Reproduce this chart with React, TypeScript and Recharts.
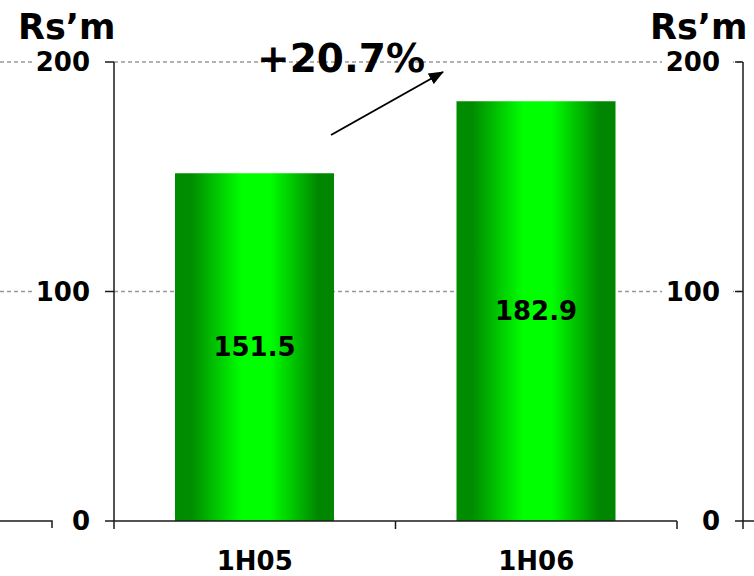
import React from 'react';
import { ComposedChart, Bar, XAxis, YAxis, CartesianGrid, LabelList, Customized } from 'recharts';

const periods = ['1H05', '1H06'];
const sales = [151.5, 182.9];
const yTicks = [0, 100, 200];
const unit = 'Rs\u2019m';

const data = periods.map((period, i) => ({ period, value: sales[i] }));
const growth = `+${((sales[1] / sales[0] - 1) * 100).toFixed(1)}%`;

const WIDTH = 754;
const HEIGHT = 576;
const RIGHT_GAP = 11; // room for the next panel's axis stub
const RIGHT_PAD = 66; // space between the last period and that axis

const FONT = '"DejaVu Sans", Verdana, sans-serif';
const INK = '#000';
const LINE = '#1a1a1a';
const GRID = '#999';

const textStyle = { fontFamily: FONT, fontWeight: 'bold' as const, fill: INK };

// value ticks; each one also draws the matching tick on the right-hand axis
const ValueTick = (props: any) => {
  const { x, y, payload } = props;
  const rx = WIDTH - RIGHT_GAP;
  return (
    <g>
      {payload.value > 0 ? (
        <>
          <line x1={0} y1={y} x2={x - 56} y2={y} stroke={GRID} strokeWidth={1.5} strokeDasharray="4 3" />
          <rect x={rx - 81} y={y - 3} width={71} height={6} fill="#fff" />
        </>
      ) : (
        <>
          <path d={`M0,${y}H${x - 38}V${y + 7}`} fill="none" stroke={LINE} strokeWidth={1.5} />
          <path d={`M${rx},${y}H${WIDTH}M${rx},${y}V${y + 8}`} fill="none" stroke={LINE} strokeWidth={1.5} />
        </>
      )}
      <text x={x} y={y} dy={9} textAnchor="end" fontSize={26} {...textStyle}>
        {payload.value}
      </text>
      <line x1={rx - 8} y1={y} x2={rx} y2={y} stroke={LINE} strokeWidth={1.5} />
      <text x={rx - 23} y={y} dy={9} textAnchor="end" fontSize={26} {...textStyle}>
        {payload.value}
      </text>
    </g>
  );
};

// period labels; baseline segment with tick marks at the band edges
const PeriodTick = (props: any) => {
  const { x, y, payload, index } = props;
  const half = payload.offset ?? 0;
  const axisY = y - 31;
  return (
    <g>
      <path d={`M${x - half},${axisY}H${x + half}`} stroke={LINE} strokeWidth={1.5} />
      {index === 0 && <line x1={x - half} y1={axisY} x2={x - half} y2={axisY + 8} stroke={LINE} strokeWidth={1.5} />}
      <line x1={x + half} y1={axisY} x2={x + half} y2={axisY + 8} stroke={LINE} strokeWidth={1.5} />
      <text x={x} y={axisY + 49} textAnchor="middle" fontSize={26} {...textStyle}>
        {payload.value}
      </text>
    </g>
  );
};

const Notes = () => (
  <g>
    <defs>
      <marker id="head" markerWidth="15" markerHeight="12" refX="14" refY="6" orient="auto" markerUnits="userSpaceOnUse">
        <path d="M0,0 L15,6 L0,12 z" fill={INK} />
      </marker>
    </defs>
    <text x={18} y={39} fontSize={35} {...textStyle}>{unit}</text>
    <text x={650} y={39} fontSize={35} {...textStyle}>{unit}</text>
    <text x={341} y={72} textAnchor="middle" fontSize={39} {...textStyle}>{growth}</text>
    <line x1={331} y1={135} x2={443} y2={72} stroke={INK} strokeWidth={2} markerEnd="url(#head)" />
  </g>
);

export default function App() {
  return (
    <div style={{ position: 'absolute', left: 0, top: 0 }}>
      <ComposedChart width={WIDTH} height={HEIGHT} data={data} margin={{ top: 62, right: 0, bottom: 54, left: 0 }}>
        <defs>
          <linearGradient id="barFill" x1="0" y1="0" x2="1" y2="0">
            <stop offset="0" stopColor="#008c00" />
            <stop offset="0.1" stopColor="#008c00" />
            <stop offset="0.42" stopColor="#00ff00" />
            <stop offset="0.6" stopColor="#00ff00" />
            <stop offset="0.9" stopColor="#008600" />
            <stop offset="1" stopColor="#008600" />
          </linearGradient>
        </defs>
        <CartesianGrid
          xAxisId="cat"
          yAxisId="left"
          vertical={false}
          horizontalValues={yTicks.filter((v) => v > 0)}
          stroke={GRID}
          strokeWidth={1.5}
          strokeDasharray="4 3"
        />
        <XAxis
          xAxisId="cat"
          dataKey="period"
          padding={{ left: 0, right: RIGHT_PAD }}
          axisLine={false}
          tickLine={false}
          tickSize={0}
          tickMargin={31}
          height={1}
          tick={<PeriodTick />}
        />
        <YAxis
          yAxisId="left"
          width={114}
          domain={[0, 200]}
          ticks={yTicks}
          tickSize={9}
          tickMargin={15}
          axisLine={{ stroke: LINE, strokeWidth: 1.5 }}
          tickLine={{ stroke: LINE, strokeWidth: 1.5 }}
          tick={<ValueTick />}
        />
        <YAxis
          yAxisId="next"
          orientation="right"
          width={RIGHT_GAP}
          domain={[0, 200]}
          axisLine={{ stroke: LINE, strokeWidth: 1.5 }}
          tickLine={false}
          tick={false}
        />
        <Bar xAxisId="cat" yAxisId="left" dataKey="value" barSize={159} fill="url(#barFill)" isAnimationActive={false}>
          <LabelList dataKey="value" position="center" fontSize={26} {...textStyle} />
        </Bar>
        <Customized component={<Notes />} />
      </ComposedChart>
    </div>
  );
}
